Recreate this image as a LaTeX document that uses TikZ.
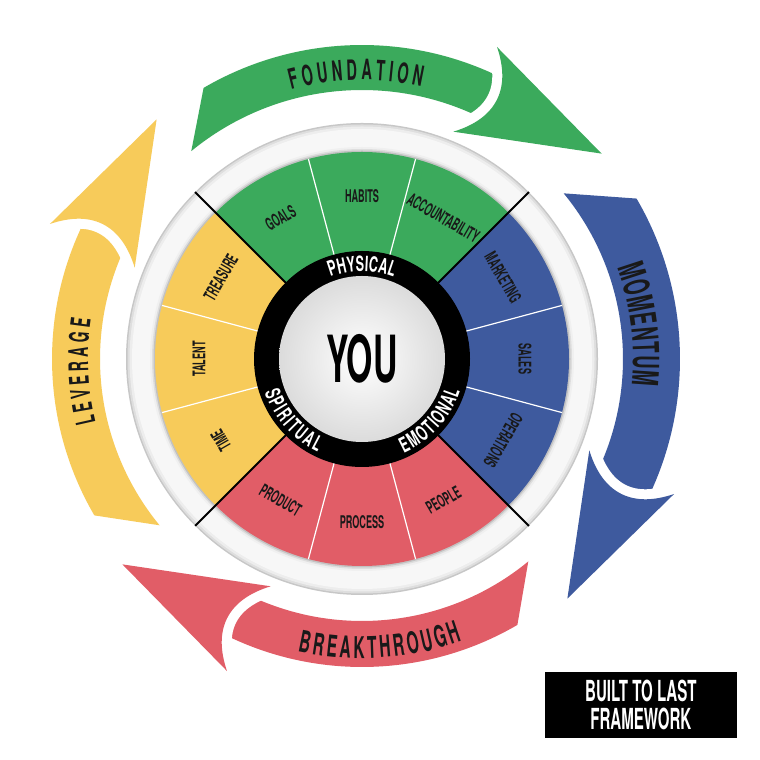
\documentclass[tikz,border=0pt]{standalone}
\usepackage{fontspec}
\usetikzlibrary{decorations.text}
\newfontfamily\labf{TeX Gyre Heros}[FakeStretch=0.52]
\newfontfamily\ringf{TeX Gyre Heros}[FakeStretch=0.6]
\newfontfamily\youf{TeX Gyre Heros}[FakeStretch=0.52]
\definecolor{cgreen}{HTML}{3BAA5C}
\definecolor{cblue}{HTML}{3E5A9E}
\definecolor{cred}{HTML}{E15D67}
\definecolor{cyellow}{HTML}{F7CB5A}
\newcommand{\bigarrow}[4]{%
  \begin{scope}[rotate=#1]
    \fill[#2] (120.3:#4pt) arc[start angle=120.3,end angle=59.5,radius=#4pt]
      -- (59.5:#3pt) arc[start angle=59.5,end angle=129.4,radius=#3pt] -- cycle;
    \draw[white,line width=20pt] (66.6:340pt) .. controls (148.7,272) and (136.3,241) .. (68.1:245pt);
    \fill[#2] (66.6:340pt) -- (40.6:315.6pt) -- (68.1:245pt)
      .. controls (136.3,241) and (148.7,272) .. (66.6:340pt) -- cycle;
  \end{scope}}
\tikzset{
  lab/.style={font=\labf\bfseries\fontsize{17.5}{17.5}\selectfont, text=black!90, inner sep=0pt},
  ringtxt/.style={decorate, decoration={text along path, text color=white,
     text align={fit to path}, text={|\ringf\bfseries\fontsize{21}{21}\selectfont|#1}}},
  arrowtxt/.style n args={2}{decorate, decoration={text along path, text color=black!90,
     text align={fit to path}, text={|\labf\bfseries\fontsize{#1}{#1}\selectfont|#2}}},
}
\begin{document}
\begin{tikzpicture}[x=1pt,y=1pt]
\useasboundingbox (0,0) rectangle (760,760);
\fill[white] (0,0) rectangle (760,760);
\begin{scope}[shift={(362,401)}]
  % big arrows
  \bigarrow{0}{cgreen}{269}{314}
  \bigarrow{-90}{cblue}{261}{318}
  \bigarrow{-180}{cred}{262}{308}
  \bigarrow{90}{cyellow}{262}{310}
  % arrow labels
  \path[arrowtxt={28}{FOUNDATION}] (104.7:279pt) arc[start angle=104.7,end angle=77.7,radius=279pt];
  \path[arrowtxt={36}{MOMENTUM}] (19.8:271pt) arc[start angle=19.8,end angle=-5.6,radius=271pt];
  \path[arrowtxt={30}{BREAKTHROUGH}] (-102.4:299.4pt) arc[start angle=-102.4,end angle=-70.4,radius=299.4pt];
  \path[arrowtxt={27}{LEVERAGE}] (193.5:274pt) arc[start angle=193.5,end angle=171.7,radius=274pt];
  % outer white ring with shadow
  \fill[black!22] (0,0) circle (236pt);
  \fill[black!13] (0,0) circle (234.5pt);
  \fill[black!7] (0,0) circle (232.5pt);
  \fill[black!3] (0,0) circle (230pt);
  \fill[white!97!black] (0,0) circle (227pt);
  \fill[black!6] (0,0) circle (212pt);
  \fill[black!13] (0,0) circle (210pt);
  \fill[black!24] (0,0) circle (208.5pt);
  % sectors
  \fill[cgreen] (0,0) -- (45:207pt) arc[start angle=45,end angle=135,radius=207pt] -- cycle;
  \fill[cyellow] (0,0) -- (135:207pt) arc[start angle=135,end angle=225,radius=207pt] -- cycle;
  \fill[cred] (0,0) -- (225:207pt) arc[start angle=225,end angle=315,radius=207pt] -- cycle;
  \fill[cblue] (0,0) -- (-45:207pt) arc[start angle=-45,end angle=45,radius=207pt] -- cycle;
  \foreach \a in {15,-15,75,105,165,195,255,285}
    \draw[white,line width=1.2pt] (\a:100pt) -- (\a:207pt);
  \foreach \a in {45,135,225,315}
    \draw[black,line width=2pt] (\a:100pt) -- (\a:236pt);
  % black ring and centre
  \fill[black] (0,0) circle (108pt);
  \shade[inner color=white, outer color=black!14] (0,0) circle (83pt);
  \node[font=\youf\bfseries\fontsize{65}{65}\selectfont, inner sep=0pt] (you) at (0,0) {YOU};
  \path[ringtxt=PHYSICAL] (111:88pt) arc[start angle=111,end angle=69,radius=88pt];
  \path[ringtxt=EMOTIONAL] (-66:103pt) arc[start angle=-66,end angle=-18,radius=103pt];
  \path[ringtxt=SPIRITUAL] (-161.3:103pt) arc[start angle=-161.3,end angle=-115.5,radius=103pt];
  % sector labels
  \node[lab,rotate=30] (goals) at (120:163pt) {GOALS};
  \node[lab,rotate=0] (habits) at (90:163pt) {HABITS};
  \node[lab,rotate=-30] (acc) at (60:163pt) {ACCOUNTABILITY};
  \node[lab,rotate=-60] (mark) at (30:163pt) {MARKETING};
  \node[lab,rotate=-90] (sales) at (0:163pt) {SALES};
  \node[lab,rotate=-120] (oper) at (-30:163pt) {OPERATIONS};
  \node[lab,rotate=30] (people) at (-60:163pt) {PEOPLE};
  \node[lab,rotate=0] (process) at (-90:163pt) {PROCESS};
  \node[lab,rotate=-30] (product) at (-120:163pt) {PRODUCT};
  \node[lab,rotate=60] (treasure) at (150:163pt) {TREASURE};
  \node[lab,rotate=90] (talent) at (180:163pt) {TALENT};
  \node[lab,rotate=120] (time) at (210:163pt) {TIME};
\end{scope}
% title box
\node[fill=black, text=white, align=center, inner sep=0pt,
      minimum width=191.7pt, minimum height=66.6pt,
      font=\labf\bfseries\fontsize{29}{28.5}\selectfont] (box) at (640.85,55) {BUILT TO LAST\\FRAMEWORK};
\end{tikzpicture}
\end{document}
